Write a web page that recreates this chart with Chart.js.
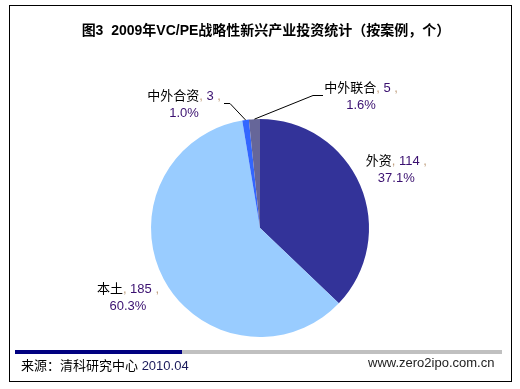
<!DOCTYPE html>
<html>
<head>
<meta charset="utf-8">
<script src="https://cdn.jsdelivr.net/npm/chart.js@4"></script>
<style>
  html, body { margin: 0; padding: 0; background: #fff; }
  #wrap { position: relative; width: 520px; height: 389px; }
  #frame { position: absolute; left: 9px; top: 5px; width: 503px; height: 377px; border: 1px solid #000; box-sizing: border-box; }
  #title { position: absolute; left: 0; width: 532px; top: 19px; text-align: center; font: bold 14px "Liberation Sans", "Noto Sans CJK SC", sans-serif; color: #000; }
  #barL { position: absolute; left: 15px; top: 350px; width: 167px; height: 4px; background: #000080; }
  #barR { position: absolute; left: 182px; top: 350px; width: 320px; height: 4px; background: #c0c0c0; }
  #src { position: absolute; left: 21px; top: 355px; font: 13px "Liberation Sans", "Noto Sans CJK SC", sans-serif; color: #000; }
  #src span { color: #1a1a5a; }
  #url { position: absolute; left: 368px; top: 355px; font: 13px "Liberation Sans", sans-serif; color: #222; }
  canvas { position: absolute; left: 0; top: 0; }
</style>
</head>
<body>
<div id="wrap">
  <canvas id="pie" width="520" height="389"></canvas>
  <div id="frame"></div>
  <div id="title">图3&nbsp; 2009年VC/PE战略性新兴产业投资统计（按案例，个）</div>
  <div id="barL"></div>
  <div id="barR"></div>
  <div id="src">来源：清科研究中心 <span>2010.04</span></div>
  <div id="url">www.zero2ipo.com.cn</div>
</div>
<script>
const labels = ['外资', '本土', '中外合资', '中外联合']
const counts = [114, 185, 3, 5]
const shares = ['37.1%', '60.3%', '1.0%', '1.6%']
const colors = ['#333399', '#99ccff', '#3366ff', '#666699']

// label placement: big slices sit out on the mid angle, small ones use a leader line
const labelStyle = [
  { dist: 1.36 },
  { dist: 1.37 },
  { x: 184, y: 96, line: [[224, 103], [230, 103]] },
  { x: 361, y: 88, line: [[323, 95], [313, 95]] },
]

const labelPlugin = {
  id: 'pieLabels',
  afterDatasetsDraw(chart) {
    const ctx = chart.ctx
    const arcs = chart.getDatasetMeta(0).data
    ctx.save()
    ctx.font = '13px "Liberation Sans", "Noto Sans CJK SC", sans-serif'
    ctx.textBaseline = 'middle'
    arcs.forEach((arc, i) => {
      const p = arc.getProps(['x', 'y', 'startAngle', 'endAngle', 'outerRadius'], true)
      const mid = (p.startAngle + p.endAngle) / 2
      const st = labelStyle[i]
      let cx, cy
      if (st.dist) {
        cx = p.x + Math.cos(mid) * p.outerRadius * st.dist
        cy = p.y + Math.sin(mid) * p.outerRadius * st.dist - 8
      } else {
        cx = st.x
        cy = st.y
        const ex = p.x + Math.cos(mid) * p.outerRadius
        const ey = p.y + Math.sin(mid) * p.outerRadius
        ctx.strokeStyle = '#000'
        ctx.lineWidth = 1
        ctx.beginPath()
        ctx.moveTo(st.line[0][0], st.line[0][1] + 0.5)
        ctx.lineTo(st.line[1][0], st.line[1][1] + 0.5)
        ctx.lineTo(ex, ey)
        ctx.stroke()
      }
      const parts = [
        [labels[i], '#000'],
        [', ', '#c0a080'],
        [String(counts[i]), '#3a1070'],
        [' ,', '#c0a080'],
      ]
      const w = parts.reduce((s, q) => s + ctx.measureText(q[0]).width, 0)
      let x = cx - w / 2
      ctx.textAlign = 'left'
      parts.forEach((q) => {
        ctx.fillStyle = q[1]
        ctx.fillText(q[0], x, cy)
        x += ctx.measureText(q[0]).width
      })
      ctx.textAlign = 'center'
      ctx.fillStyle = '#3a1070'
      ctx.fillText(shares[i], cx, cy + 17)
    })
    ctx.restore()
  },
}

new Chart(document.getElementById('pie'), {
  type: 'pie',
  data: {
    labels: labels,
    datasets: [
      {
        data: counts,
        backgroundColor: colors,
        borderWidth: 0,
      },
    ],
  },
  options: {
    responsive: false,
    animation: false,
    layout: { padding: { left: 151, right: 151, top: 119, bottom: 52 } },
    plugins: {
      legend: { display: false },
      tooltip: { enabled: false },
    },
  },
  plugins: [labelPlugin],
})
</script>
</body>
</html>
